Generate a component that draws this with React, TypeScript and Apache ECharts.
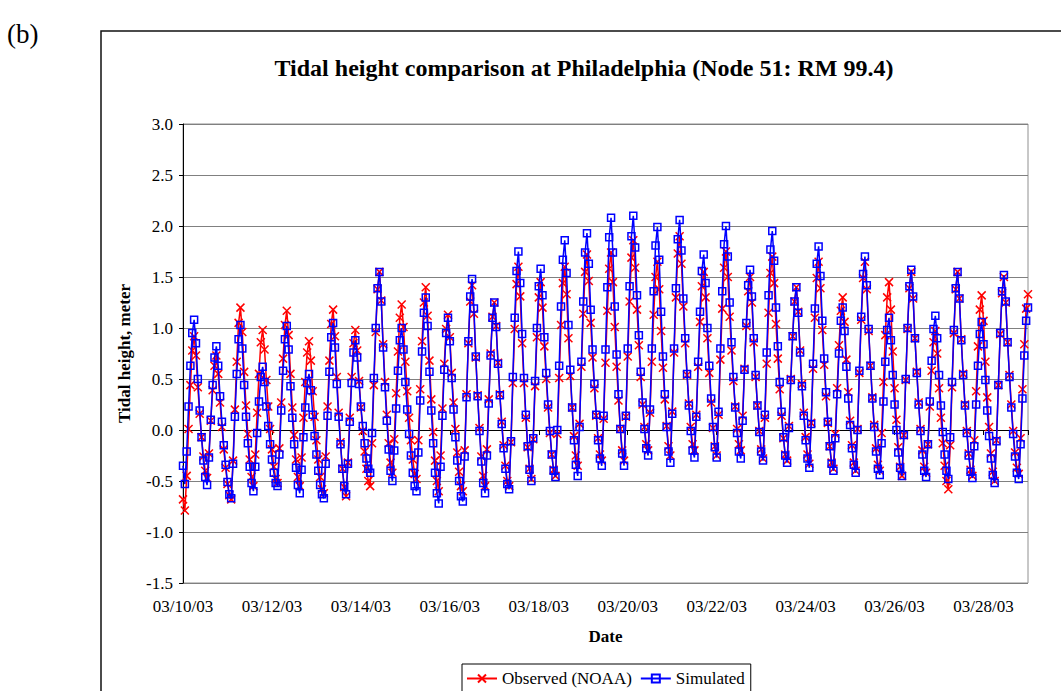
import React, { useEffect, useRef } from "react";
import * as echarts from "echarts";

// Hourly tidal heights (m) from 03/10/03 00:00, one value per hour
const tickLabels = ["03/10/03", "03/12/03", "03/14/03", "03/16/03", "03/18/03", "03/20/03", "03/22/03", "03/24/03", "03/26/03", "03/28/03"];
const HOURS_PER_TICK = 48;
const X_MAX_HOURS = 456;

const simulated = [
  -0.35,
  -0.53, -0.21, 0.23, 0.63, 0.95, 1.08, 0.85, 0.50, 0.19, -0.07, -0.30, -0.46,
  -0.54, -0.27, 0.10, 0.44, 0.71, 0.82, 0.63, 0.33, 0.08, -0.15, -0.34, -0.51, -0.63,
  -0.67, -0.33, 0.13, 0.55, 0.89, 1.03, 0.80, 0.44, 0.13, -0.13, -0.36, -0.52,
  -0.60, -0.36, -0.03, 0.28, 0.52, 0.62, 0.47, 0.23, 0.04, -0.14, -0.29, -0.42, -0.52,
  -0.55, -0.24, 0.19, 0.58, 0.89, 1.02, 0.79, 0.43, 0.12, -0.14, -0.37, -0.54,
  -0.62, -0.39, -0.07, 0.22, 0.46, 0.55, 0.39, 0.15, -0.06, -0.24, -0.40, -0.54, -0.63,
  -0.67, -0.33, 0.14, 0.57, 0.91, 1.05, 0.81, 0.45, 0.13, -0.14, -0.38, -0.55,
  -0.63, -0.33, 0.08, 0.46, 0.76, 0.88, 0.71, 0.45, 0.23, 0.04, -0.13, -0.28, -0.38,
  -0.42, -0.03, 0.51, 1.00, 1.39, 1.55, 1.26, 0.81, 0.42, 0.09, -0.19, -0.40,
  -0.50, -0.20, 0.21, 0.58, 0.88, 1.00, 0.79, 0.47, 0.20, -0.04, -0.25, -0.42, -0.55,
  -0.60, -0.22, 0.29, 0.77, 1.15, 1.30, 1.02, 0.57, 0.19, -0.13, -0.42, -0.62,
  -0.72, -0.36, 0.14, 0.59, 0.95, 1.10, 0.87, 0.51, 0.20, -0.07, -0.30, -0.50, -0.65,
  -0.70, -0.26, 0.32, 0.87, 1.31, 1.48, 1.19, 0.72, 0.33, -0.01, -0.31, -0.52,
  -0.62, -0.25, 0.26, 0.73, 1.10, 1.25, 1.01, 0.65, 0.34, 0.06, -0.18, -0.38, -0.53,
  -0.58, -0.11, 0.52, 1.10, 1.56, 1.75, 1.44, 0.94, 0.51, 0.15, -0.16, -0.39,
  -0.50, -0.08, 0.48, 1.00, 1.41, 1.58, 1.32, 0.91, 0.56, 0.25, -0.01, -0.24, -0.40,
  -0.46, 0.00, 0.63, 1.21, 1.67, 1.86, 1.54, 1.03, 0.59, 0.22, -0.10, -0.34,
  -0.45, 0.03, 0.67, 1.26, 1.74, 1.93, 1.63, 1.18, 0.79, 0.45, 0.15, -0.10, -0.28,
  -0.35, 0.14, 0.79, 1.40, 1.89, 2.08, 1.74, 1.21, 0.74, 0.35, 0.01, -0.23,
  -0.35, 0.14, 0.80, 1.41, 1.90, 2.10, 1.79, 1.32, 0.93, 0.57, 0.27, 0.01, -0.18,
  -0.25, 0.20, 0.80, 1.36, 1.81, 1.99, 1.67, 1.16, 0.72, 0.35, 0.03, -0.21,
  -0.32, 0.16, 0.80, 1.39, 1.87, 2.06, 1.76, 1.29, 0.90, 0.55, 0.24, -0.01, -0.20,
  -0.27, 0.13, 0.67, 1.16, 1.56, 1.72, 1.44, 1.00, 0.63, 0.31, 0.03, -0.17,
  -0.27, 0.18, 0.80, 1.36, 1.82, 2.00, 1.70, 1.25, 0.86, 0.52, 0.22, -0.03, -0.21,
  -0.28, 0.09, 0.59, 1.05, 1.42, 1.57, 1.31, 0.90, 0.54, 0.24, -0.02, -0.21,
  -0.30, 0.15, 0.76, 1.32, 1.77, 1.95, 1.66, 1.20, 0.82, 0.47, 0.18, -0.07, -0.25,
  -0.32, 0.02, 0.49, 0.92, 1.26, 1.40, 1.15, 0.76, 0.43, 0.14, -0.10, -0.28,
  -0.37, 0.06, 0.65, 1.19, 1.63, 1.80, 1.51, 1.07, 0.70, 0.37, 0.08, -0.16, -0.33,
  -0.40, -0.08, 0.35, 0.75, 1.07, 1.20, 0.97, 0.62, 0.31, 0.05, -0.18, -0.34,
  -0.42, 0.00, 0.58, 1.11, 1.53, 1.70, 1.42, 0.99, 0.63, 0.31, 0.03, -0.21, -0.38,
  -0.44, -0.13, 0.28, 0.67, 0.98, 1.10, 0.88, 0.54, 0.25, 0.00, -0.22, -0.37,
  -0.45, -0.05, 0.50, 1.00, 1.41, 1.57, 1.31, 0.90, 0.56, 0.25, -0.01, -0.24, -0.40,
  -0.46, -0.14, 0.28, 0.68, 0.99, 1.12, 0.90, 0.54, 0.24, -0.02, -0.24, -0.40,
  -0.48, -0.07, 0.47, 0.98, 1.39, 1.55, 1.29, 0.88, 0.54, 0.24, -0.03, -0.25, -0.41,
  -0.47, -0.16, 0.25, 0.63, 0.94, 1.06, 0.84, 0.49, 0.19, -0.06, -0.28, -0.44,
  -0.52, -0.11, 0.44, 0.95, 1.36, 1.52, 1.26, 0.86, 0.52, 0.22, -0.04, -0.26, -0.42,
  -0.48, -0.14, 0.31, 0.73, 1.07, 1.20,
];

const observed = [
  -0.68,
  -0.79, -0.45, 0.01, 0.44, 0.78, 0.92, 0.73, 0.42, 0.16, -0.07, -0.26, -0.40,
  -0.47, -0.23, 0.09, 0.39, 0.63, 0.73, 0.55, 0.27, 0.03, -0.19, -0.37, -0.53, -0.64,
  -0.68, -0.30, 0.20, 0.67, 1.05, 1.20, 0.96, 0.57, 0.24, -0.04, -0.29, -0.46,
  -0.55, -0.24, 0.17, 0.55, 0.86, 0.98, 0.79, 0.49, 0.23, 0.01, -0.19, -0.36, -0.48,
  -0.52, -0.18, 0.27, 0.70, 1.03, 1.17, 0.93, 0.55, 0.22, -0.05, -0.29, -0.46,
  -0.55, -0.27, 0.12, 0.47, 0.76, 0.87, 0.68, 0.38, 0.13, -0.10, -0.29, -0.46, -0.58,
  -0.62, -0.26, 0.23, 0.68, 1.04, 1.18, 0.92, 0.52, 0.17, -0.12, -0.38, -0.56,
  -0.65, -0.32, 0.12, 0.52, 0.85, 0.98, 0.78, 0.48, 0.22, -0.01, -0.21, -0.38, -0.50,
  -0.55, -0.13, 0.44, 0.96, 1.38, 1.55, 1.27, 0.84, 0.47, 0.15, -0.13, -0.32,
  -0.42, -0.09, 0.36, 0.77, 1.10, 1.23, 1.01, 0.67, 0.38, 0.12, -0.10, -0.29, -0.43,
  -0.48, -0.10, 0.40, 0.87, 1.25, 1.40, 1.12, 0.68, 0.30, -0.02, -0.30, -0.50,
  -0.60, -0.25, 0.21, 0.65, 0.99, 1.13, 0.91, 0.56, 0.27, 0.01, -0.22, -0.41, -0.55,
  -0.60, -0.20, 0.35, 0.85, 1.26, 1.42, 1.14, 0.71, 0.34, 0.02, -0.26, -0.45,
  -0.55, -0.19, 0.30, 0.75, 1.11, 1.25, 1.02, 0.66, 0.35, 0.08, -0.15, -0.35, -0.50,
  -0.55, -0.12, 0.46, 0.99, 1.43, 1.60, 1.31, 0.85, 0.46, 0.12, -0.17, -0.38,
  -0.48, -0.09, 0.43, 0.91, 1.30, 1.45, 1.20, 0.82, 0.50, 0.22, -0.03, -0.24, -0.39,
  -0.45, -0.04, 0.51, 1.03, 1.44, 1.60, 1.33, 0.90, 0.53, 0.22, -0.06, -0.25,
  -0.35, 0.06, 0.62, 1.14, 1.55, 1.72, 1.46, 1.05, 0.71, 0.41, 0.14, -0.08, -0.24,
  -0.30, 0.11, 0.66, 1.17, 1.58, 1.74, 1.45, 1.01, 0.62, 0.29, 0.01, -0.20,
  -0.30, 0.13, 0.72, 1.26, 1.69, 1.86, 1.59, 1.18, 0.83, 0.52, 0.25, 0.03, -0.14,
  -0.20, 0.17, 0.67, 1.13, 1.50, 1.65, 1.38, 0.97, 0.61, 0.30, 0.04, -0.16,
  -0.25, 0.18, 0.76, 1.30, 1.73, 1.90, 1.63, 1.21, 0.85, 0.54, 0.26, 0.03, -0.14,
  -0.20, 0.15, 0.62, 1.06, 1.41, 1.55, 1.30, 0.90, 0.56, 0.27, 0.02, -0.16,
  -0.25, 0.15, 0.69, 1.19, 1.59, 1.75, 1.50, 1.11, 0.78, 0.48, 0.23, 0.01, -0.14,
  -0.20, 0.14, 0.60, 1.02, 1.36, 1.50, 1.25, 0.86, 0.52, 0.24, -0.01, -0.19,
  -0.28, 0.12, 0.65, 1.15, 1.54, 1.70, 1.44, 1.04, 0.70, 0.40, 0.14, -0.08, -0.24,
  -0.30, 0.04, 0.50, 0.92, 1.26, 1.40, 1.16, 0.78, 0.45, 0.17, -0.07, -0.24,
  -0.33, 0.07, 0.60, 1.10, 1.49, 1.65, 1.39, 0.98, 0.64, 0.33, 0.07, -0.16, -0.32,
  -0.38, -0.04, 0.41, 0.83, 1.17, 1.30, 1.06, 0.69, 0.37, 0.09, -0.15, -0.32,
  -0.40, 0.01, 0.56, 1.08, 1.49, 1.65, 1.38, 0.97, 0.63, 0.32, 0.05, -0.18, -0.34,
  -0.40, -0.03, 0.47, 0.93, 1.30, 1.45, 1.18, 0.77, 0.41, 0.10, -0.17, -0.36,
  -0.45, -0.05, 0.49, 0.99, 1.39, 1.55, 1.29, 0.90, 0.57, 0.27, 0.01, -0.20, -0.36,
  -0.42, -0.14, 0.23, 0.58, 0.86, 0.97, 0.75, 0.41, 0.12, -0.13, -0.35, -0.50,
  -0.58, -0.15, 0.42, 0.95, 1.38, 1.55, 1.29, 0.89, 0.55, 0.25, -0.01, -0.23, -0.39,
  -0.45, -0.10, 0.38, 0.82, 1.18, 1.32, 1.07, 0.67, 0.32, 0.03, -0.23, -0.41,
  -0.50, -0.10, 0.44, 0.94, 1.34, 1.50, 1.25, 0.86, 0.54, 0.25, -0.01, -0.22, -0.37,
  -0.43, -0.08, 0.40, 0.84, 1.19, 1.33,
];

const FONT = '"Liberation Serif", "Times New Roman", serif';

export default function App() {
  const ref = useRef<HTMLDivElement>(null);
  useEffect(() => {
    const chart = echarts.init(ref.current!, null, { renderer: "svg" });
    chart.setOption({
      animation: false,
      backgroundColor: "#fff",
      textStyle: { fontFamily: FONT },
      grid: { left: 183, right: 33, top: 124, bottom: 108, show: true, borderColor: "#909090", borderWidth: 1 },
      graphic: [
        { type: "rect", shape: { x: 101, y: 31, width: 1100, height: 800 }, style: { fill: "none", stroke: "#111", lineWidth: 1.5 }, silent: true },
        { type: "text", x: 7, y: 34, style: { text: "(b)", font: `27px ${FONT}`, fill: "#000", textVerticalAlign: "middle", verticalAlign: "middle" } },
        { type: "text", x: 584, y: 68, style: { text: "Tidal height comparison at Philadelphia (Node 51: RM 99.4)", font: `bold 24px ${FONT}`, fill: "#000", textAlign: "center", align: "center", textVerticalAlign: "middle", verticalAlign: "middle" } },
      ],
      legend: {
        left: 462, top: 664, orient: "horizontal", itemWidth: 30, itemHeight: 10, itemGap: 8,
        borderColor: "#000", borderWidth: 1, padding: [6, 6, 6, 4],
        textStyle: { fontFamily: FONT, fontSize: 17, color: "#000" },
        data: ["Observed (NOAA)", "Simulated"],
      },
      xAxis: {
        type: "value", min: 0, max: X_MAX_HOURS, interval: HOURS_PER_TICK,
        name: "Date", nameLocation: "middle", nameGap: 45,
        nameTextStyle: { fontFamily: FONT, fontSize: 17, fontWeight: "bold", color: "#000" },
        axisLine: { lineStyle: { color: "#000", width: 1 } },
        axisTick: { show: true, length: 5, lineStyle: { color: "#000" } },
        axisLabel: { fontFamily: FONT, fontSize: 17, color: "#000", margin: 15, formatter: (v: number) => tickLabels[Math.round(v / HOURS_PER_TICK)] ?? "" },
        splitLine: { show: false },
      },
      yAxis: {
        type: "value", min: -1.5, max: 3.0, interval: 0.5,
        name: "Tidal height, meter", nameLocation: "middle", nameGap: 50,
        nameTextStyle: { fontFamily: FONT, fontSize: 17, fontWeight: "bold", color: "#000" },
        axisLine: { show: true, lineStyle: { color: "#000", width: 1 } },
        axisTick: { show: true, length: 4, lineStyle: { color: "#000" } },
        axisLabel: { fontFamily: FONT, fontSize: 17, color: "#000", margin: 10, formatter: (v: number) => v.toFixed(1) },
        splitLine: { show: true, lineStyle: { color: "#808080", width: 1 } },
      },
      series: [
        {
          name: "Observed (NOAA)", type: "line", data: observed.map((v, i) => [i, v]), z: 3,
          symbol: "path://M0 0L10 10M10 0L0 10", symbolSize: 8,
          itemStyle: { color: "#ff0000", borderColor: "#ff0000", borderWidth: 1.5 },
          lineStyle: { color: "#ff0000", width: 1.5 },
        },
        {
          name: "Simulated", type: "line", data: simulated.map((v, i) => [i, v]), z: 4,
          symbol: "rect", symbolSize: 7,
          itemStyle: { color: "rgba(255,255,255,0)", borderColor: "#0000ff", borderWidth: 1.5 },
          lineStyle: { color: "#0000ff", width: 1.5 },
        },
      ],
    });
    return () => chart.dispose();
  }, []);
  return <div ref={ref} style={{ position: "fixed", left: 0, top: 0, width: 1061, height: 691, background: "#fff" }} />;
}
